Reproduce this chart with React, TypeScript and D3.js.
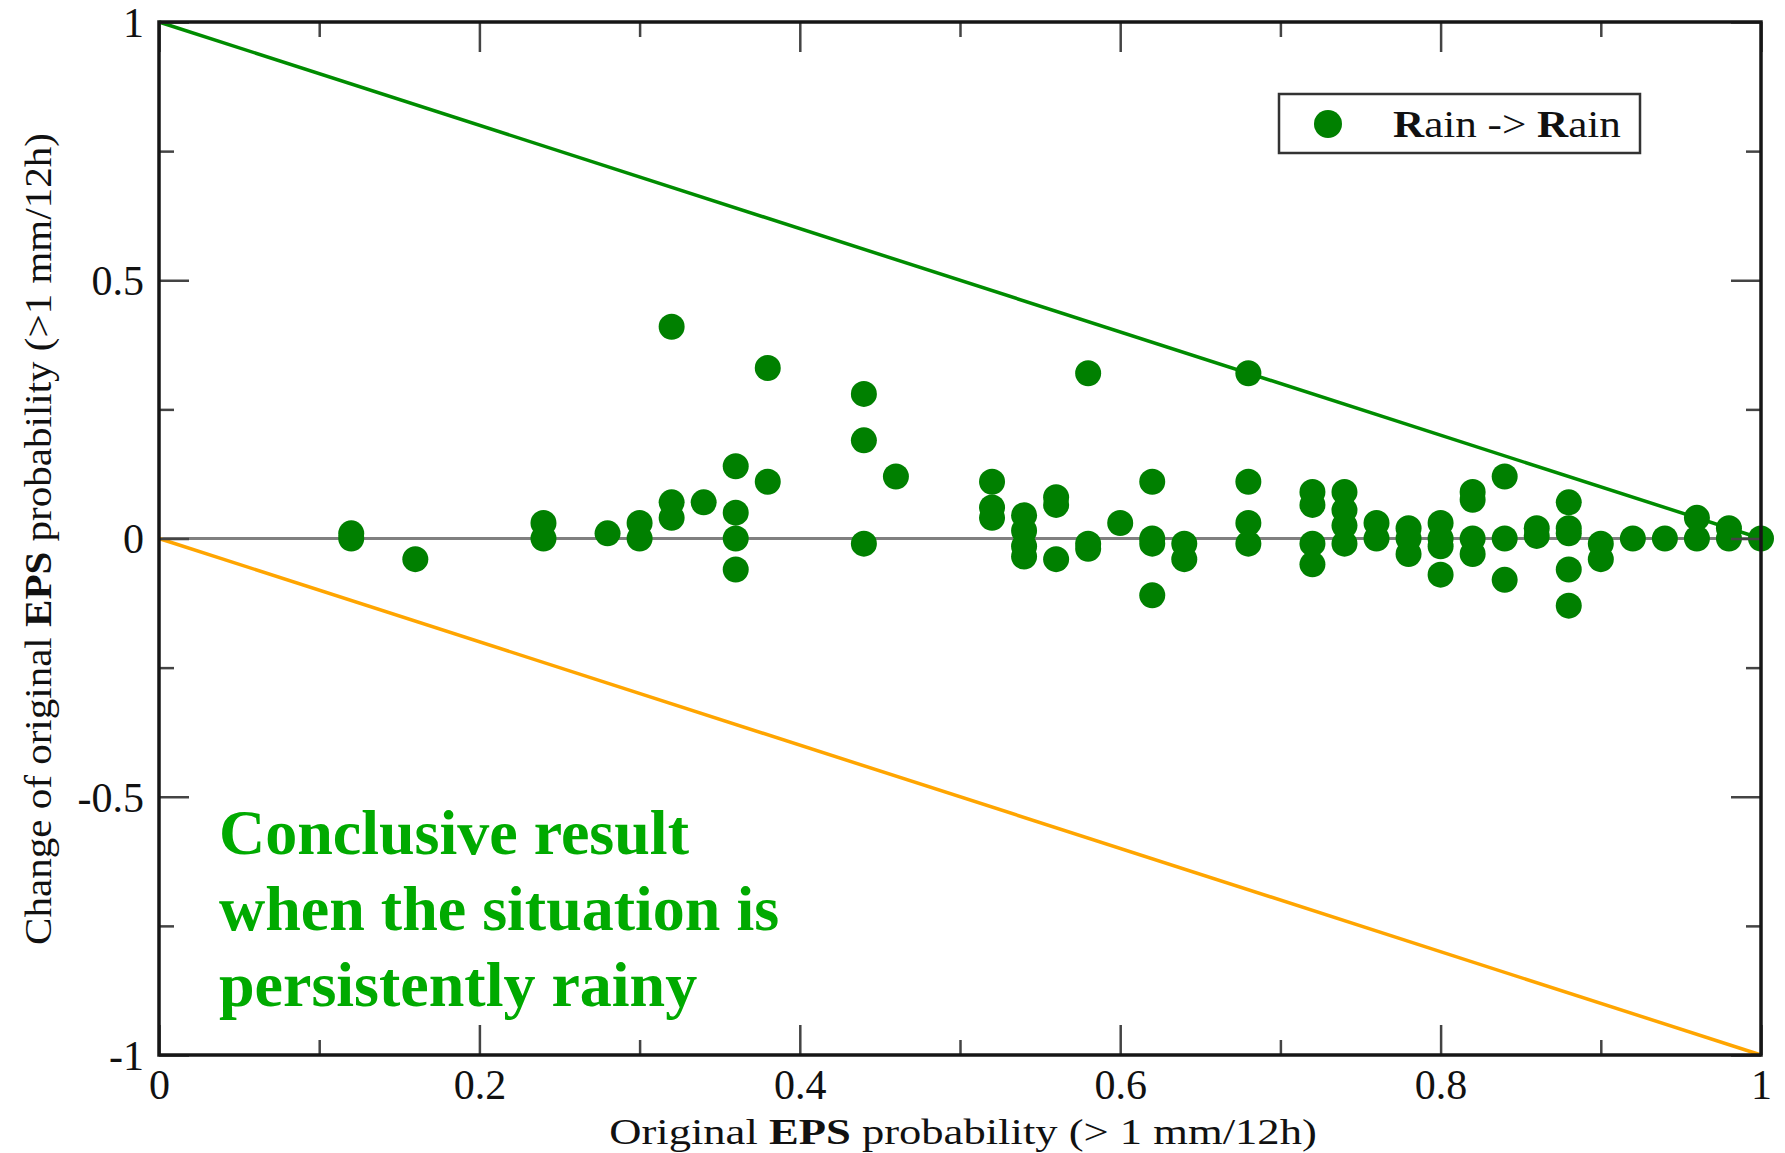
import React, { useEffect, useRef } from 'react';
import * as d3 from 'd3';

// original EPS probability (x) and the changes found at each of them (y)
const origProb = [0.12, 0.16, 0.24, 0.28, 0.30, 0.32, 0.34, 0.36, 0.38, 0.44, 0.46,
  0.52, 0.54, 0.56, 0.58, 0.60, 0.62, 0.64, 0.68, 0.72, 0.74, 0.76, 0.78, 0.80,
  0.82, 0.84, 0.86, 0.88, 0.90, 0.92, 0.94, 0.96, 0.98, 1.00];
const probChange = [
  [0.01, 0],
  [-0.04],
  [0.03, 0],
  [0.01],
  [0.03, 0],
  [0.41, 0.07, 0.04],
  [0.07],
  [0.14, 0.05, 0, -0.06],
  [0.33, 0.11],
  [0.28, 0.19, -0.01],
  [0.12],
  [0.11, 0.06, 0.04],
  [0.045, 0.015, -0.015, -0.035],
  [0.08, 0.065, -0.04],
  [0.32, -0.01, -0.02],
  [0.03],
  [0.11, 0, -0.01, -0.11],
  [-0.01, -0.04],
  [0.32, 0.11, 0.03, -0.01],
  [0.09, 0.065, -0.01, -0.05],
  [0.09, 0.055, 0.025, -0.01],
  [0.03, 0],
  [0.02, 0, -0.03],
  [0.03, 0, -0.015, -0.07],
  [0.09, 0.075, 0, -0.03],
  [0.12, 0, -0.08],
  [0.02, 0.005],
  [0.07, 0.02, 0.01, -0.06, -0.13],
  [-0.01, -0.04],
  [0],
  [0],
  [0.04, 0],
  [0.02, 0],
  [0],
];

// limits: a change can't push the probability above 1 or below 0
const upperBound = [[0, 1], [1, 0]];
const lowerBound = [[0, 0], [1, -1]];
const zeroLine = [[0, 0], [1, 0]];

const xMajor = [0, 0.2, 0.4, 0.6, 0.8, 1];
const xMinor = [0.1, 0.3, 0.5, 0.7, 0.9];
const xLabels = ['0', '0.2', '0.4', '0.6', '0.8', '1'];
const yMajor = [1, 0.5, 0, -0.5, -1];
const yMinor = [0.75, 0.25, -0.25, -0.75];
const yLabels = ['1', '0.5', '0', '-0.5', '-1'];

const legendLabel = 'Rain -> Rain';
const noteLines = ['Conclusive result', 'when the situation is', 'persistently rainy'];

const W = 1785;
const H = 1153;
const FONT = "'Liberation Serif', 'Times New Roman', serif";

export default function App() {
  const ref = useRef<SVGSVGElement>(null);

  useEffect(() => {
    const svg = d3.select(ref.current);
    svg.selectAll('*').remove();

    let left = 159, right = 1761, top = 22, bottom = 1055;
    let x = d3.scaleLinear().domain([0, 1]).range([left, right]);
    let y = d3.scaleLinear().domain([-1, 1]).range([bottom, top]);

    let line = d3.line<number[]>()
      .x((d) => x(d[0]))
      .y((d) => y(d[1]));

    svg.append('path').attr('d', line(zeroLine))
      .attr('fill', 'none').attr('stroke', '#808080').attr('stroke-width', 3);
    svg.append('path').attr('d', line(upperBound))
      .attr('fill', 'none').attr('stroke', '#008c00').attr('stroke-width', 3.5);
    svg.append('path').attr('d', line(lowerBound))
      .attr('fill', 'none').attr('stroke', '#ffa500').attr('stroke-width', 3.5);

    let points = origProb.flatMap((p, i) => probChange[i].map((c) => ({ p, c })));
    svg.append('g').selectAll('circle')
      .data(points)
      .join('circle')
      .attr('cx', (d) => x(d.p))
      .attr('cy', (d) => y(d.c))
      .attr('r', 13)
      .attr('fill', '#008000');

    // axes: ticks point inward, labels only bottom/left
    function axis(gen, tx, ty) {
      let g = svg.append('g')
        .attr('transform', 'translate(' + tx + ',' + ty + ')')
        .attr('font-family', FONT)
        .call(gen);
      g.select('.domain').remove();
      g.selectAll('line').attr('stroke', '#444').attr('stroke-width', 2.5);
      return g;
    }

    let bx = axis(d3.axisBottom(x).tickValues(xMajor).tickSize(-30).tickPadding(14)
      .tickFormat((d, i) => xLabels[i]), 0, bottom);
    axis(d3.axisBottom(x).tickValues(xMinor).tickSize(-15).tickFormat(() => ''), 0, bottom);
    axis(d3.axisTop(x).tickValues(xMajor).tickSize(-30).tickFormat(() => ''), 0, top);
    axis(d3.axisTop(x).tickValues(xMinor).tickSize(-15).tickFormat(() => ''), 0, top);

    let ly = axis(d3.axisLeft(y).tickValues(yMajor).tickSize(-30).tickPadding(15)
      .tickFormat((d, i) => yLabels[i]), left, 0);
    axis(d3.axisLeft(y).tickValues(yMinor).tickSize(-15).tickFormat(() => ''), left, 0);
    axis(d3.axisRight(y).tickValues(yMajor).tickSize(-30).tickFormat(() => ''), right, 0);
    axis(d3.axisRight(y).tickValues(yMinor).tickSize(-15).tickFormat(() => ''), right, 0);

    bx.selectAll('text')
      .attr('font-family', FONT).attr('font-size', 42).attr('fill', '#111');
    ly.selectAll('text')
      .attr('font-family', FONT).attr('font-size', 42).attr('fill', '#111')
      .attr('dy', '0.34em');

    svg.append('rect')
      .attr('x', left).attr('y', top)
      .attr('width', right - left).attr('height', bottom - top)
      .attr('fill', 'none').attr('stroke', '#161616').attr('stroke-width', 3.5);

    // stretch a text horizontally to the width it has in the original
    function fit(t, width) {
      let w = t.node().getComputedTextLength();
      if (w > 0) t.attr('transform', 'scale(' + width / w + ',1)');
    }

    let xt = svg.append('g').attr('transform', 'translate(963,1144)')
      .append('text')
      .attr('text-anchor', 'middle')
      .attr('font-family', FONT).attr('font-size', 36).attr('fill', '#111');
    xt.append('tspan').text('Original ');
    xt.append('tspan').attr('font-weight', 'bold').text('EPS');
    xt.append('tspan').text(' probability (> 1 mm/12h)');
    fit(xt, 708);

    let yt = svg.append('g').attr('transform', 'translate(51,539) rotate(-90)')
      .append('text')
      .attr('text-anchor', 'middle')
      .attr('font-family', FONT).attr('font-size', 37).attr('fill', '#111');
    yt.append('tspan').text('Change of original ');
    yt.append('tspan').attr('font-weight', 'bold').text('EPS');
    yt.append('tspan').text(' probability (>1 mm/12h)');
    fit(yt, 812);

    // legend
    svg.append('rect')
      .attr('x', 1279).attr('y', 94).attr('width', 361).attr('height', 59)
      .attr('fill', '#fff').attr('stroke', '#333').attr('stroke-width', 2.5);
    svg.append('circle')
      .attr('cx', 1328).attr('cy', 124).attr('r', 14).attr('fill', '#008000');
    let lt = svg.append('g').attr('transform', 'translate(1393,137)')
      .append('text')
      .attr('font-family', FONT).attr('font-size', 38).attr('fill', '#111');
    lt.append('tspan').attr('font-weight', 'bold').text(legendLabel.slice(0, 1));
    lt.append('tspan').text(legendLabel.slice(1, 8));
    lt.append('tspan').attr('font-weight', 'bold').text(legendLabel.slice(8, 9));
    lt.append('tspan').text(legendLabel.slice(9));
    fit(lt, 228);

    svg.append('g').selectAll('text')
      .data(noteLines)
      .join('text')
      .attr('x', 219)
      .attr('y', (d, i) => 854 + i * 76)
      .attr('font-family', FONT).attr('font-size', 64).attr('font-weight', 'bold')
      .attr('fill', '#00aa00')
      .text((d) => d);
  }, []);

  return (
    <svg ref={ref} width={W} height={H}
      style={{ position: 'absolute', left: 0, top: 0, background: '#fff' }} />
  );
}
